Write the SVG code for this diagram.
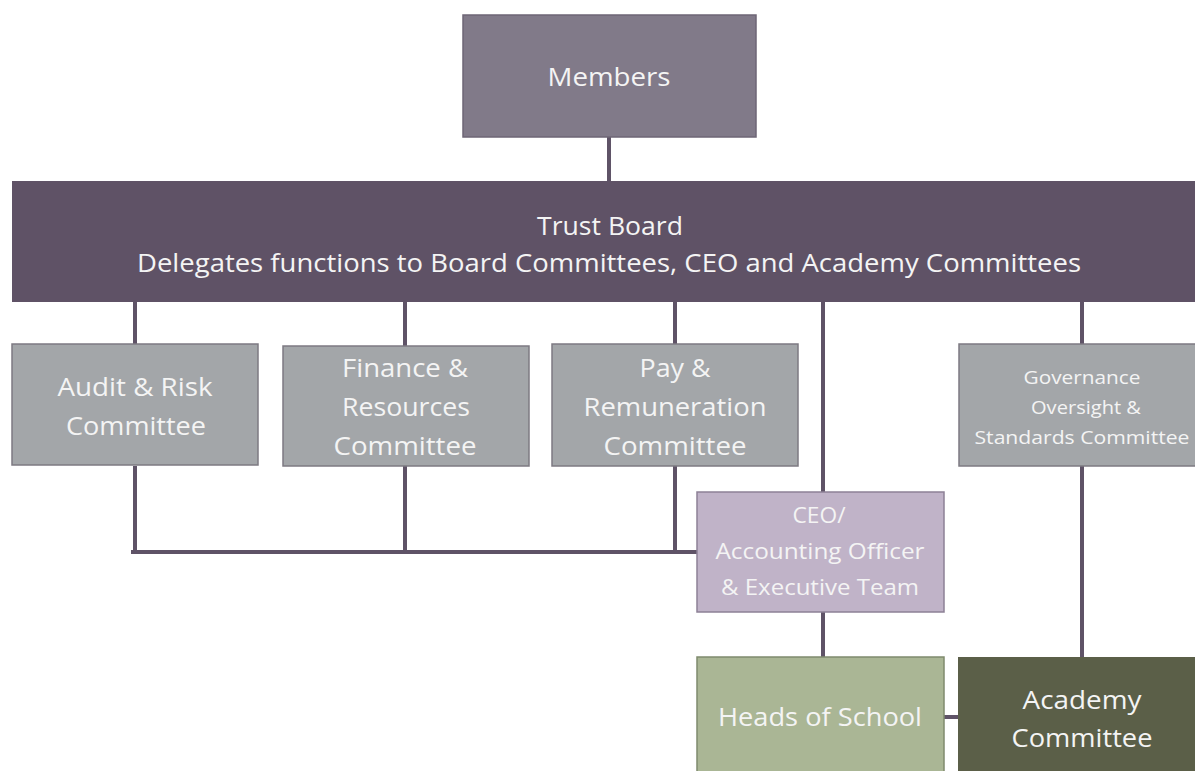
<svg xmlns="http://www.w3.org/2000/svg" width="1195" height="771" viewBox="0 0 1195 771">
<style>
text{font-family:"Open Sans","Noto Sans","Liberation Sans",sans-serif;fill:#f4f4f4;text-anchor:middle}
.c{stroke:#5f5367;stroke-width:4;fill:none}
.grey{fill:#a3a6a9;stroke:#7d7a82;stroke-width:1.5}
</style>
<rect width="1195" height="771" fill="#ffffff"/>
<g id="connectors">
<line class="c" x1="609" y1="137" x2="609" y2="181"/>
<line class="c" x1="135" y1="302" x2="135" y2="344"/>
<line class="c" x1="405" y1="302" x2="405" y2="346"/>
<line class="c" x1="675" y1="302" x2="675" y2="344"/>
<line class="c" x1="823" y1="302" x2="823" y2="492"/>
<line class="c" x1="1082" y1="302" x2="1082" y2="344"/>
<line class="c" x1="135" y1="466" x2="135" y2="552"/>
<line class="c" x1="405" y1="466" x2="405" y2="552"/>
<line class="c" x1="675" y1="466" x2="675" y2="552"/>
<line class="c" x1="131" y1="552" x2="697" y2="552"/>
<line class="c" x1="823" y1="612" x2="823" y2="657"/>
<line class="c" x1="1082" y1="466" x2="1082" y2="657"/>
<line class="c" x1="944" y1="717" x2="958" y2="717"/>
</g>
<g id="members">
<rect x="463" y="15" width="293" height="122" fill="#817a89" stroke="#6e6676" stroke-width="1.5"/>
<text x="609" y="86" font-size="25" textLength="123" lengthAdjust="spacingAndGlyphs">Members</text>
</g>
<g id="trust-board">
<rect x="12" y="181" width="1190" height="121" fill="#5f5266"/>
<text x="610" y="235" font-size="26" textLength="146" lengthAdjust="spacingAndGlyphs">Trust Board</text>
<text x="609" y="272" font-size="26" textLength="944" lengthAdjust="spacingAndGlyphs">Delegates functions to Board Committees, CEO and Academy Committees</text>
</g>
<g id="audit">
<rect class="grey" x="12" y="344" width="246" height="121"/>
<text x="135" y="396" font-size="25" textLength="155" lengthAdjust="spacingAndGlyphs">Audit &amp; Risk</text>
<text x="136" y="435" font-size="25" textLength="140" lengthAdjust="spacingAndGlyphs">Committee</text>
</g>
<g id="finance">
<rect class="grey" x="283" y="346" width="246" height="120"/>
<text x="405" y="377" font-size="25" textLength="126" lengthAdjust="spacingAndGlyphs">Finance &amp;</text>
<text x="406" y="416" font-size="25" textLength="128" lengthAdjust="spacingAndGlyphs">Resources</text>
<text x="405" y="455" font-size="25" textLength="143" lengthAdjust="spacingAndGlyphs">Committee</text>
</g>
<g id="pay">
<rect class="grey" x="552" y="344" width="246" height="122"/>
<text x="675" y="377" font-size="25" textLength="71" lengthAdjust="spacingAndGlyphs">Pay &amp;</text>
<text x="675" y="416" font-size="25" textLength="183" lengthAdjust="spacingAndGlyphs">Remuneration</text>
<text x="675" y="455" font-size="25" textLength="143" lengthAdjust="spacingAndGlyphs">Committee</text>
</g>
<g id="governance">
<rect class="grey" x="959" y="344" width="245" height="122"/>
<text x="1082" y="384" font-size="18" textLength="117" lengthAdjust="spacingAndGlyphs">Governance</text>
<text x="1086" y="414" font-size="18" textLength="110" lengthAdjust="spacingAndGlyphs">Oversight &amp;</text>
<text x="1082" y="444" font-size="18" textLength="215" lengthAdjust="spacingAndGlyphs">Standards Committee</text>
</g>
<g id="ceo">
<rect x="697" y="492" width="247" height="120" fill="#c0b3c8" stroke="#8d8196" stroke-width="1.5"/>
<text x="819" y="523" font-size="22" textLength="53" lengthAdjust="spacingAndGlyphs">CEO/</text>
<text x="820" y="559" font-size="22" textLength="209" lengthAdjust="spacingAndGlyphs">Accounting Officer</text>
<text x="820" y="595" font-size="22" textLength="198" lengthAdjust="spacingAndGlyphs">&amp; Executive Team</text>
</g>
<g id="heads">
<rect x="697" y="657" width="247" height="120" fill="#aab695" stroke="#7f8a6d" stroke-width="1.5"/>
<text x="820" y="726" font-size="25" textLength="204" lengthAdjust="spacingAndGlyphs">Heads of School</text>
</g>
<g id="academy">
<rect x="958" y="657" width="245" height="120" fill="#5b5f48"/>
<text x="1082" y="709" font-size="25" textLength="119" lengthAdjust="spacingAndGlyphs">Academy</text>
<text x="1082" y="747" font-size="25" textLength="141" lengthAdjust="spacingAndGlyphs">Committee</text>
</g>
</svg>
